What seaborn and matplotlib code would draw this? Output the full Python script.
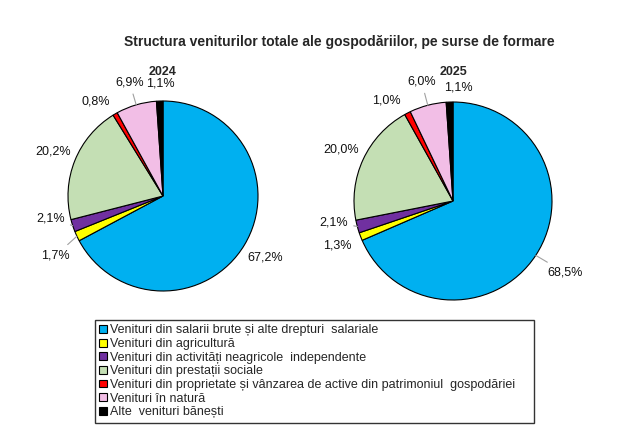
import numpy as np
import matplotlib.pyplot as plt
import seaborn as sns

# data
categories = [
    "Venituri din salarii brute și alte drepturi  salariale",
    "Venituri din agricultură",
    "Venituri din activități neagricole  independente",
    "Venituri din prestații sociale",
    "Venituri din proprietate și vânzarea de active din patrimoniul  gospodăriei",
    "Venituri în natură",
    "Alte  venituri bănești",
]
shares_2024 = [67.2, 1.7, 2.1, 20.2, 0.8, 6.9, 1.1]
shares_2025 = [68.5, 1.3, 2.1, 20.0, 1.0, 6.0, 1.1]
years = ["2024", "2025"]
colors = ["#00B0F0", "#FFFF00", "#7030A0", "#C4DFB4", "#FF0000", "#F2BEE6", "#000000"]

sns.set_style("white")
plt.rcParams["font.family"] = ["Liberation Sans", "DejaVu Sans"]

W, H = 622, 433
fig = plt.figure(figsize=(W / 100, H / 100), dpi=100)

# pie layout in pixels: center x, center y, radius
layout = [(163, 196, 95), (453, 201, 99)]
# label offsets (data units) and which labels get a leader line
offsets = [
    {1: (0, -0.1), 2: (0, 0.15), 4: (-0.08, -0.08), 6: (0.02, -0.07)},
    {0: (0.09, -0.04), 2: (0, 0.11), 4: (-0.1, -0.1), 6: (0.1, -0.1)},
]
leaders = [[1, 2, 5], [0, 2, 5]]

wedges_all = []
for k, (vals, year) in enumerate(zip([shares_2024, shares_2025], years)):
    cx, cy, r = layout[k]
    half = 140
    ax = fig.add_axes([(cx - half) / W, (H - cy - half) / H, 2 * half / W, 2 * half / H])
    wedges, _ = ax.pie(vals, colors=colors, startangle=90, counterclock=False,
                       wedgeprops=dict(edgecolor="black", linewidth=0.8))
    wedges_all.append(wedges)
    lim = half / r
    ax.set_xlim(-lim, lim)
    ax.set_ylim(-lim, lim)
    ax.set_aspect("equal")
    ax.axis("off")
    for i, w in enumerate(wedges):
        mid = np.deg2rad((w.theta1 + w.theta2) / 2)
        dx, dy = offsets[k].get(i, (0, 0))
        tx = 1.25 * np.cos(mid) + dx
        ty = 1.25 * np.sin(mid) + dy
        label = f"{vals[i]:.1f}%".replace(".", ",")
        if i in leaders[k]:
            ax.annotate(label, xy=(np.cos(mid), np.sin(mid)), xytext=(tx, ty),
                        ha="center", va="center", fontsize=9, color="#111111",
                        arrowprops=dict(arrowstyle="-", color="#A0A0A0", lw=0.8,
                                        shrinkA=2, shrinkB=0))
        else:
            ax.text(tx, ty, label, ha="center", va="center", fontsize=9, color="#111111")
    fig.text(cx / W, 1 - 72 / H, year, ha="center", va="center",
             fontsize=9, fontweight="bold")

fig.text(339 / W, 1 - 42 / H,
         "Structura veniturilor totale ale gospodăriilor, pe surse de formare",
         ha="center", va="center", fontsize=10, fontweight="bold")

leg = fig.legend(wedges_all[0], categories, loc="upper left",
                 bbox_to_anchor=(95 / W, 1 - 320 / H, (534 - 95) / W, 0),
                 mode="expand", fontsize=9, frameon=True, fancybox=False,
                 handlelength=0.6, handleheight=0.6, handletextpad=0.25,
                 labelspacing=0.13, borderpad=0.35, borderaxespad=0)
leg.get_frame().set_edgecolor("black")
leg.get_frame().set_linewidth(1.0)

fig.savefig("out.png", dpi=100, facecolor="white")
